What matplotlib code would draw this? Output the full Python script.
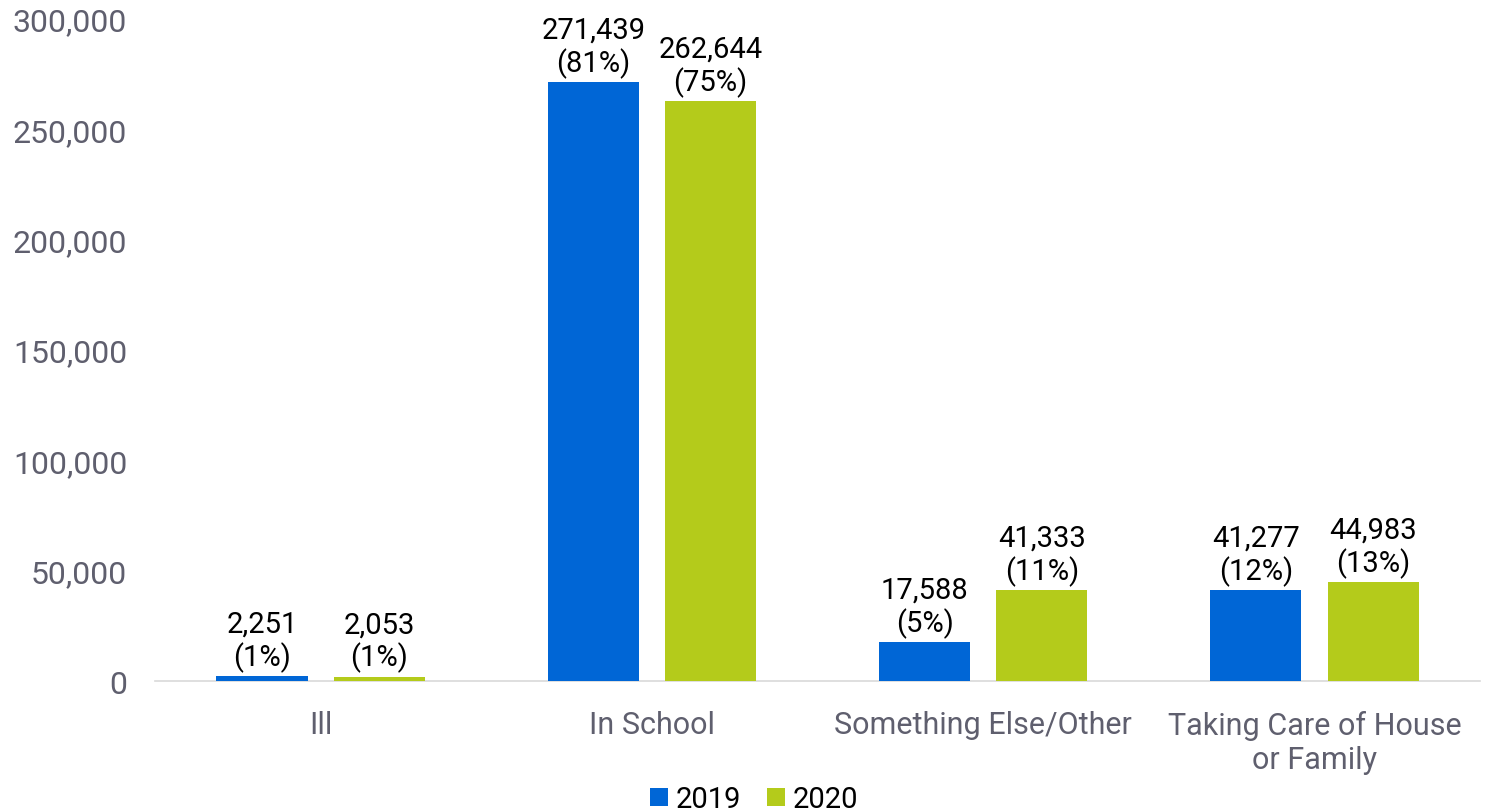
import matplotlib
matplotlib.use("Agg")
import matplotlib.pyplot as plt
import numpy as np

categories = ["Ill", "In School", "Something Else/Other", "Taking Care of House\nor Family"]
series_names = ["2019", "2020"]
values_2019 = [2251, 271439, 17588, 41277]
values_2020 = [2053, 262644, 41333, 44983]
pct_2019 = ["1%", "81%", "5%", "12%"]
pct_2020 = ["1%", "75%", "11%", "13%"]
yticks = [0, 50000, 100000, 150000, 200000, 250000, 300000]

colors = ["#0066D6", "#B4CB1B"]
plt.rcParams['font.family'] = ['Roboto', 'DejaVu Sans']

fig = plt.figure(figsize=(14.85, 8.12), dpi=100)
ax = fig.add_axes([0.1044, 0.160, 0.8923, 0.8153])

x = np.arange(len(categories))
w = 0.275
off = 0.177
for vals, pcts, c, o, name in [(values_2019, pct_2019, colors[0], -off, series_names[0]),
                               (values_2020, pct_2020, colors[1], off, series_names[1])]:
    bars = ax.bar(x + o, vals, width=w, color=c, label=name, zorder=3)
    for b, v, p in zip(bars, vals, pcts):
        ax.annotate(f"{v:,}\n({p})", (b.get_x() + b.get_width() / 2, v),
                    xytext=(0, 3), textcoords="offset points", ha="center", va="bottom",
                    fontsize=21, color="black", linespacing=1.15)

ax.set_xlim(-0.5, len(categories) - 0.5)
ax.set_ylim(0, 300000)
ax.set_yticks(yticks)
ax.set_yticklabels([f"{t:,}" for t in yticks], fontsize=23, color="#5F5F6E")
ax.set_xticks(x)
ax.set_xticklabels(categories, fontsize=22, color="#5F5F6E", linespacing=1.2)
for s in ["top", "right", "left"]:
    ax.spines[s].set_visible(False)
ax.spines["bottom"].set_color("#D9D9D9")
ax.spines["bottom"].set_linewidth(1.2)
ax.tick_params(axis="both", length=0)
ax.tick_params(axis="y", pad=20)
ax.tick_params(axis="x", pad=21)

fig.legend(loc="lower center", bbox_to_anchor=(0.508, -0.035), ncol=2, frameon=False,
           fontsize=21, handlelength=0.6, handleheight=0.6, handletextpad=0.28, columnspacing=0.9)

fig.savefig("out.png", dpi=100)
